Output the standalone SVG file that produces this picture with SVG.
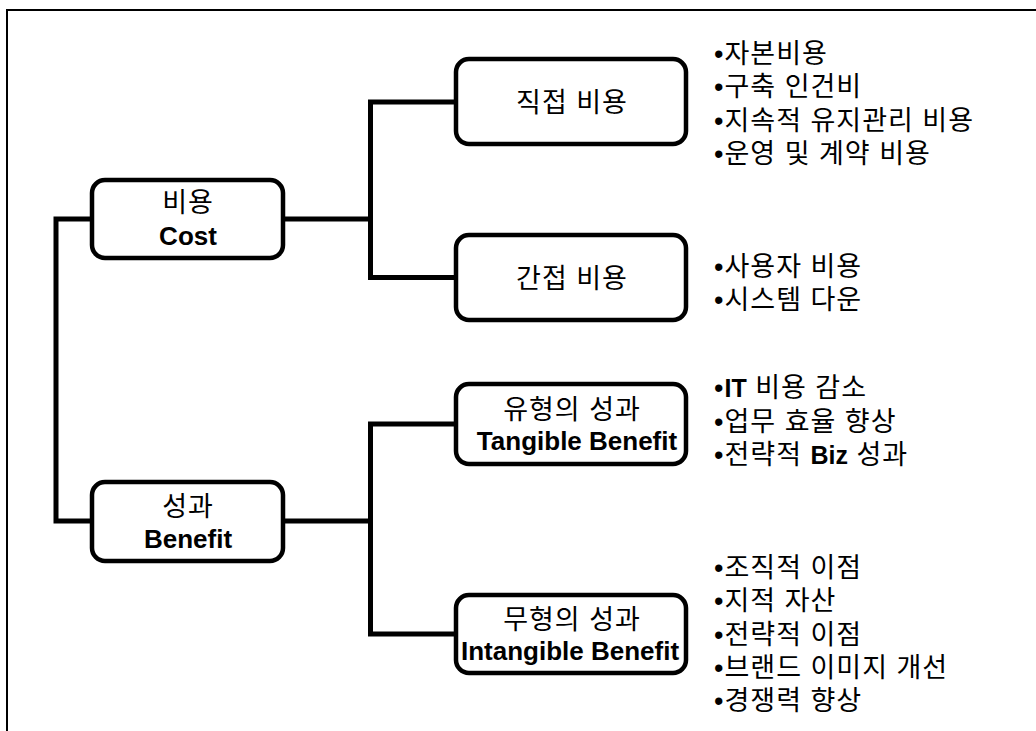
<svg xmlns="http://www.w3.org/2000/svg" width="1036" height="731" viewBox="0 0 1036 731">
  <style>
    .box { fill: #ffffff; stroke: #000000; stroke-width: 4.5; }
    .wire { fill: none; stroke: #000000; stroke-width: 5; stroke-linejoin: miter; stroke-linecap: butt; }
    .frame { fill: none; stroke: #000000; stroke-width: 2; }
    text { font-family: "Liberation Sans", "Noto Sans CJK KR", sans-serif; fill: #000000; }
    .ko { font-size: 27px; letter-spacing: 1px; }
    .en { font-size: 26px; font-weight: bold; letter-spacing: 0; }
    .mid { text-anchor: middle; }
    .list { font-size: 27px; letter-spacing: 1px; }
    .b { font-weight: bold; letter-spacing: 0; font-size: 25px; }
  </style>

  <rect width="1036" height="731" fill="#ffffff"/>
  <path class="frame" d="M7,731 V10 H1036"/>

  <!-- tree connectors -->
  <g id="connectors">
    <path class="wire" d="M92,219 H56 V521 H92"/>
    <path class="wire" d="M283,219 H370.5"/>
    <path class="wire" d="M456,102 H370.5 V277.5 H456"/>
    <path class="wire" d="M283,521 H370.5"/>
    <path class="wire" d="M456,424 H370.5 V634 H456"/>
  </g>

  <g id="cost">
    <rect class="box" x="92" y="180" width="191" height="78" rx="13"/>
    <text class="ko mid" x="188" y="212">비용</text>
    <text class="en mid" x="188" y="245">Cost</text>
  </g>

  <g id="benefit">
    <rect class="box" x="92" y="482" width="191" height="79" rx="13"/>
    <text class="ko mid" x="188" y="516">성과</text>
    <text class="en mid" x="188" y="548">Benefit</text>
  </g>

  <g id="direct-cost">
    <rect class="box" x="456" y="59" width="230" height="85" rx="13"/>
    <text class="ko mid" x="572" y="112">직접 비용</text>
  </g>

  <g id="indirect-cost">
    <rect class="box" x="456" y="235" width="230" height="85" rx="13"/>
    <text class="ko mid" x="572" y="288">간접 비용</text>
  </g>

  <g id="tangible-benefit">
    <rect class="box" x="456" y="384" width="230" height="80" rx="13"/>
    <text class="ko mid" x="572" y="419">유형의 성과</text>
    <text class="en mid" x="577" y="450">Tangible Benefit</text>
  </g>

  <g id="intangible-benefit">
    <rect class="box" x="456" y="595" width="230" height="78" rx="13"/>
    <text class="ko mid" x="572" y="629">무형의 성과</text>
    <text class="en mid" x="570" y="660">Intangible Benefit</text>
  </g>

  <g id="direct-cost-items">
    <text class="list" x="714" y="63">•자본비용</text>
    <text class="list" x="714" y="96">•구축 인건비</text>
    <text class="list" x="714" y="130">•지속적 유지관리 비용</text>
    <text class="list" x="714" y="163">•운영 및 계약 비용</text>
  </g>

  <g id="indirect-cost-items">
    <text class="list" x="714" y="276">•사용자 비용</text>
    <text class="list" x="714" y="309">•시스템 다운</text>
  </g>

  <g id="tangible-items">
    <text class="list" x="714" y="397">•<tspan class="b">IT</tspan> 비용 감소</text>
    <text class="list" x="714" y="431">•업무 효율 향상</text>
    <text class="list" x="714" y="464">•전략적 <tspan class="b">Biz</tspan> 성과</text>
  </g>

  <g id="intangible-items">
    <text class="list" x="714" y="577">•조직적 이점</text>
    <text class="list" x="714" y="610">•지적 자산</text>
    <text class="list" x="714" y="644">•전략적 이점</text>
    <text class="list" x="714" y="677">•브랜드 이미지 개선</text>
    <text class="list" x="714" y="710">•경쟁력 향상</text>
  </g>
</svg>
